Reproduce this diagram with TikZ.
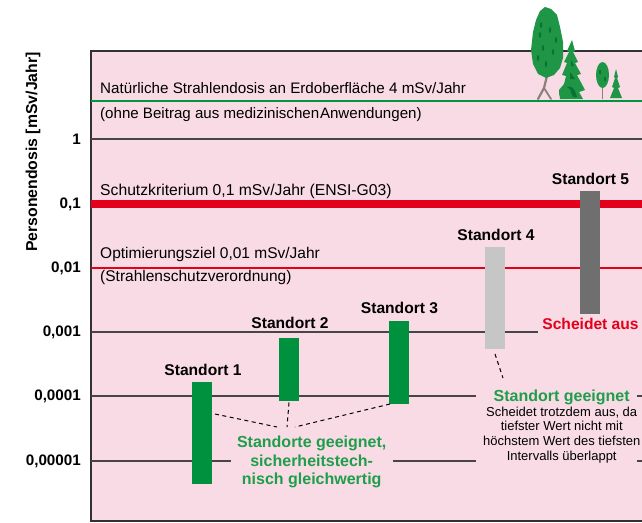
\documentclass[tikz,border=0pt]{standalone}
\usepackage{fontspec}
\setmainfont{Liberation Sans}
\definecolor{pinkbg}{RGB}{249,219,230}
\definecolor{barg}{RGB}{0,145,62}
\definecolor{txtg}{RGB}{30,158,74}
\definecolor{redl}{RGB}{227,0,27}
\definecolor{gridc}{RGB}{70,70,70}
\definecolor{framec}{RGB}{50,50,50}
\definecolor{lgray}{RGB}{198,198,198}
\definecolor{dgray}{RGB}{111,111,111}
\definecolor{treeg}{RGB}{30,150,70}
\definecolor{treed}{RGB}{10,115,50}
\definecolor{trunk}{RGB}{140,128,122}
\definecolor{greenl}{RGB}{0,150,64}
\begin{document}
\begin{tikzpicture}[x=1pt,y=-1pt,
  lbl/.style={font=\fontsize{15.5}{18}\selectfont, inner sep=0pt, anchor=base west},
  site/.style={font=\bfseries\fontsize{15.6}{18}\selectfont, inner sep=0pt, anchor=base},
  tick/.style={font=\bfseries\fontsize{15.2}{17}\selectfont, inner sep=0pt, anchor=east},
  bar/.style={draw=none, inner sep=0pt, minimum width=20pt, rectangle},
  gridline/.style={draw=gridc, line width=1.1pt},
  dashlink/.style={draw=black, line width=1pt, dash pattern=on 4pt off 3.5pt},
  gtxt/.style={font=\bfseries\fontsize{16}{18}\selectfont, text=txtg, inner sep=0pt, anchor=base},
  stxt/.style={font=\fontsize{13}{15}\selectfont, inner sep=0pt, anchor=base}
]
\useasboundingbox (0,0) rectangle (642,522);
% background and frame
\fill[pinkbg] (91,51) rectangle (642,521);
\draw[framec, line width=1.5pt] (642,51) -- (91,51) -- (91,521) -- (642,521);

% grid lines
\draw[gridline] (91,139) -- (642,139);
\draw[gridline] (91,332) -- (538,332);
\draw[gridline] (91,396) -- (476,396);
\draw[gridline] (637,396) -- (642,396);
\draw[gridline] (91,461) -- (231,461);
\draw[gridline] (393,461) -- (476,461);
\draw[gridline] (637,461) -- (642,461);
% coloured reference lines
\draw[greenl, line width=2.2pt] (91,101) -- (642,101);
\draw[redl, line width=7.5pt] (91,204) -- (642,204);
\draw[redl, line width=2.4pt] (91,268) -- (642,268);

% trees
% big deciduous tree
\draw[trunk, line width=2.2pt, line cap=round] (548,72) -- (544,88) -- (538,99);
\draw[trunk, line width=1.8pt, line cap=round] (544,88) -- (551,99);
\fill[treeg] (545,7) -- (551,9) -- (557,15) -- (560,27) -- (563,42) -- (563,58) -- (560,68) -- (554,75) -- (546,78) -- (538,74) -- (533,64) -- (531,50) -- (533,32) -- (536,20) -- (540,11) -- cycle;
\foreach \p in {(540,35),(543,48),(538,58),(550,30),(553,52),(546,64),(541,25),(556,40)}
  \fill[treed] \p ellipse (1.2pt and 3pt);
% conifer
\fill[treeg] (572,40) -- (575,51) -- (573,52) -- (578,62) -- (575,63) -- (581,74) -- (577,75) -- (585,90) -- (579,92) -- (583,99) -- (568,99) -- (560,99) -- (559,90) -- (564,84) -- (566,76) -- (562,75) -- (567,63) -- (564,62) -- (569,52) -- (567,51) -- cycle;
\fill[treed] (566,88) .. controls (570,84) and (575,88) .. (577,97) -- (573,97) .. controls (571,92) and (569,90) .. (566,88) -- cycle;
\fill[treed] (571,60) -- (574,66) -- (571,66) -- cycle;
\fill[treed] (570,72) -- (575,79) -- (570,79) -- cycle;
\fill[treeg] (565,93) ellipse (6pt and 6pt);
% small deciduous tree
\draw[trunk, line width=1.5pt] (602.5,84) -- (602.5,99);
\fill[treeg] (602.5,75) ellipse (6.5pt and 13pt);
\fill[treed] (600,72) ellipse (1pt and 2.5pt);
\fill[treed] (605,79) ellipse (1pt and 2.5pt);
% small conifer
\fill[treeg] (616,69) -- (618,77) -- (617,78) -- (620,87) -- (618,88) -- (622,98) -- (610,98) -- (614,88) -- (612,87) -- (615,78) -- (614,77) -- cycle;

% axis
\node[rotate=90, font=\bfseries\fontsize{15.8}{18}\selectfont, inner sep=0pt] (title) at (33,152) {Personendosis [mSv/Jahr]};
\node[tick] (t1) at (81,139) {1};
\node[tick] (t2) at (81,204) {0,1};
\node[tick] (t3) at (81,268) {0,01};
\node[tick] (t4) at (81,332) {0,001};
\node[tick] (t5) at (81,396) {0,0001};
\node[tick] (t6) at (81,461) {0,00001};

% line labels
\node[lbl, font=\fontsize{15.2}{18}\selectfont] (nat) at (100,93.5) {Natürliche Strahlendosis an Erdoberfläche 4 mSv/Jahr};
\node[lbl, font=\fontsize{15.1}{18}\selectfont] (ohne) at (100,118) {(ohne Beitrag aus medizinischen\hspace{0.8pt}Anwendungen)};
\node[lbl, font=\fontsize{15.7}{18}\selectfont] (schutz) at (100,195) {Schutzkriterium 0,1 mSv/Jahr (ENSI-G03)};
\node[lbl] (opt) at (100,258.5) {Optimierungsziel 0,01 mSv/Jahr};
\node[lbl] (ssv) at (100,281) {(Strahlenschutzverordnung)};

% bars
\node[bar, fill=barg, minimum height=102pt] (b1) at (202,433) {};
\node[bar, fill=barg, minimum height=63pt] (b2) at (289,369.5) {};
\node[bar, fill=barg, minimum height=83pt] (b3) at (399,362.5) {};
\node[bar, fill=lgray, minimum height=102pt] (b4) at (495,298) {};
\node[bar, fill=dgray, minimum height=123pt] (b5) at (590,252.5) {};

% site labels
\node[site] (s1) at (203,375) {Standort 1};
\node[site] (s2) at (290,328.3) {Standort 2};
\node[site] (s3) at (399.5,313.3) {Standort 3};
\node[site] (s4) at (496,240) {Standort 4};
\node[site] (s5) at (590.5,184.3) {Standort 5};
\node[site, text=redl] (aus) at (590.5,329.3) {Scheidet aus};

% annotation: sites 1-3
\node[gtxt] (g1) at (311.7,447.7) {Standorte geeignet,};
\node[gtxt] (g2) at (311.7,466.3) {sicherheitstech-};
\node[gtxt] (g3) at (311.7,484.5) {nisch gleichwertig};

% annotation: site 4
\node[gtxt] (h0) at (561.7,401.7) {Standort geeignet};
\node[stxt] (h1) at (561.7,416) {Scheidet trotzdem aus, da};
\node[stxt] (h2) at (561.7,430.7) {tiefster Wert nicht mit};
\node[stxt] (h3) at (561.7,445.3) {höchstem Wert des tiefsten};
\node[stxt] (h4) at (561.7,460) {Intervalls überlappt};

% dashed connectors
\coordinate (d1a) at (215,414);
\coordinate (d1b) at (277,427);
\coordinate (d2a) at (289,402.5);
\coordinate (d2b) at (287,427);
\coordinate (d3a) at (390,404);
\coordinate (d3b) at (295,427);
\coordinate (d4a) at (495,354);
\coordinate (d4b) at (503,378);
\draw[dashlink] (d1a) -- (d1b);
\draw[dashlink] (d2a) -- (d2b);
\draw[dashlink] (d3a) -- (d3b);
\draw[dashlink] (d4a) -- (d4b);
\end{tikzpicture}
\end{document}
